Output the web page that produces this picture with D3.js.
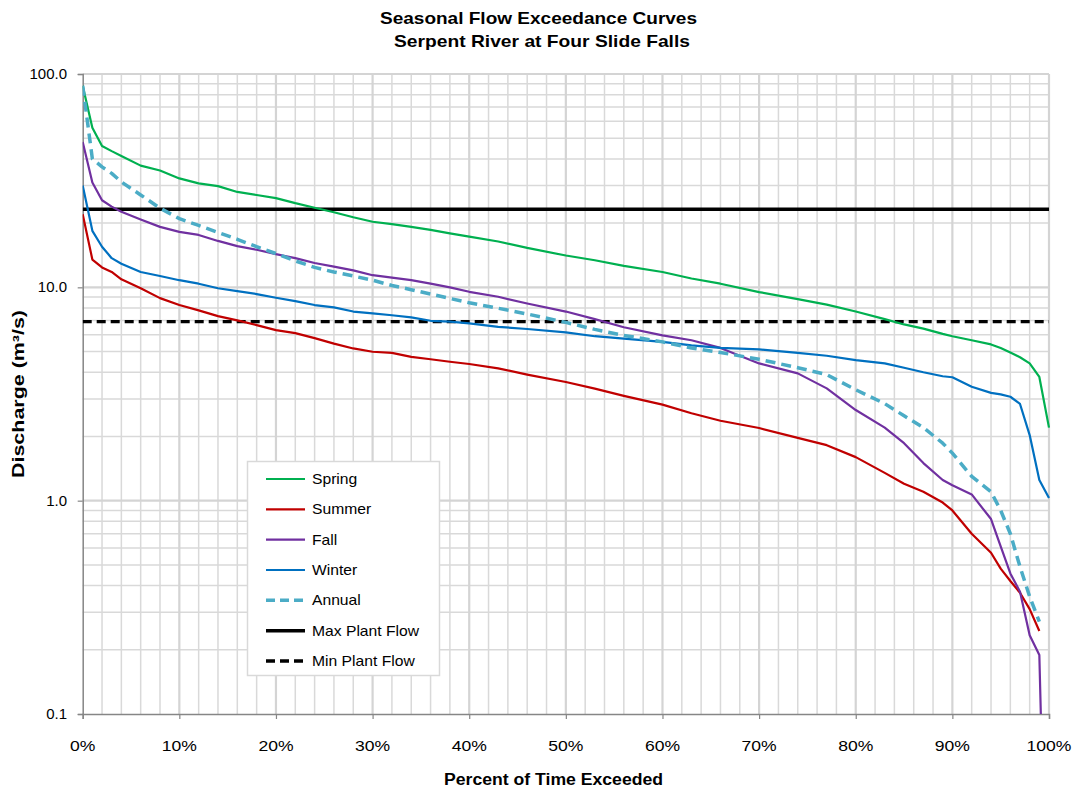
<!DOCTYPE html>
<html>
<head>
<meta charset="utf-8">
<script src="https://cdn.jsdelivr.net/npm/d3@7"></script>
<style>
  body { margin: 0; background: #fff; }
  svg { display: block; font-family: "Liberation Sans", Arial, sans-serif; }
</style>
</head>
<body>
<svg id="chart" width="1077" height="791"></svg>
<script>
// ---------------- DATA ----------------
const titleLines = ["Seasonal Flow Exceedance Curves", "Serpent River at Four Slide Falls"];
const xTickLabels = ["0%","10%","20%","30%","40%","50%","60%","70%","80%","90%","100%"];
const yTickValues = [0.1, 1, 10, 100];
const yTickLabels = ["0.1", "1.0", "10.0", "100.0"];

const percent = [0,1,2,3,4,6,8,10,12,14,16,18,20,22,24,26,28,30,32,34,36,38,40,43,46,50,53,56,60,63,66,70,74,77,80,83,85,87,89,90,92,94,95,96,97,98,99,100];

const spring = [88,56,46,43.5,41.3,37.2,35.3,32.4,30.7,29.8,28.0,27.1,26.2,24.8,23.6,22.5,21.3,20.3,19.8,19.2,18.6,17.9,17.3,16.4,15.3,14.1,13.4,12.6,11.8,11.0,10.4,9.5,8.8,8.3,7.7,7.1,6.7,6.4,6.05,5.9,5.65,5.4,5.2,4.95,4.7,4.4,3.8,2.2];
const summer = [22,13.5,12.4,11.8,10.9,9.9,8.9,8.26,7.8,7.33,7.0,6.65,6.3,6.1,5.78,5.45,5.17,4.99,4.93,4.72,4.6,4.48,4.37,4.17,3.9,3.6,3.35,3.1,2.82,2.57,2.37,2.19,1.97,1.82,1.6,1.35,1.2,1.1,0.98,0.9,0.7,0.57,0.48,0.42,0.37,0.31,0.245,null];
const fall = [48,31,25.6,23.9,22.6,20.8,19.2,18.2,17.6,16.5,15.6,15.0,14.3,13.7,13.0,12.5,12.0,11.4,11.1,10.8,10.4,10.0,9.53,9.03,8.4,7.7,7.1,6.5,5.95,5.65,5.2,4.4,3.95,3.36,2.66,2.2,1.86,1.5,1.25,1.18,1.07,0.82,0.61,0.456,0.374,0.234,0.189,0.003];
const winter = [30,18.4,15.5,13.7,12.9,11.8,11.3,10.8,10.4,9.9,9.6,9.3,8.94,8.62,8.26,8.05,7.7,7.55,7.4,7.23,6.97,6.9,6.78,6.53,6.38,6.15,5.9,5.75,5.55,5.35,5.2,5.12,4.93,4.78,4.56,4.4,4.2,4.0,3.83,3.79,3.42,3.2,3.15,3.07,2.84,2.03,1.25,1.03];
const annual = [88,40,36.7,34.2,31.2,27.1,23.5,21.0,19.5,18.1,16.8,15.5,14.4,13.3,12.4,11.8,11.3,10.8,10.2,9.75,9.3,8.87,8.46,7.98,7.5,6.85,6.35,5.95,5.55,5.2,4.95,4.6,4.2,3.9,3.31,2.85,2.5,2.2,1.86,1.67,1.3,1.1,0.9,0.7,0.49,0.355,0.271,null];
const maxPlantFlow = 23.2;
const minPlantFlow = 6.9;

const seriesNames = ["Spring","Summer","Fall","Winter","Annual","Max Plant Flow","Min Plant Flow"];

// ---------------- LAYOUT ----------------
const svg = d3.select("#chart");
const L = 82.7, R = 1049, T = 74, B = 714;
const x = d3.scaleLinear().domain([0, 100]).range([L, R]);
const y = d3.scaleLog().domain([0.1, 100]).range([B, T]);

// stretch text horizontally (Excel rendering is wider)
function stretch(sel, factor) {
  sel.each(function () {
    const w = this.getComputedTextLength();
    d3.select(this).attr("textLength", w * factor).attr("lengthAdjust", "spacingAndGlyphs");
  });
}

// gridlines
const grid = svg.append("g");
const minorY = [];
[0.1, 1, 10].forEach(d => { for (let k = 2; k <= 9; k++) minorY.push(d * k); });
grid.selectAll("line.hy").data(minorY).join("line")
  .attr("x1", L).attr("x2", R).attr("y1", d => y(d)).attr("y2", d => y(d))
  .attr("stroke", "#d9d9d9").attr("stroke-width", 1.5);
grid.selectAll("line.vx").data(d3.range(2, 101, 2).filter(d => d % 10 !== 0)).join("line")
  .attr("x1", d => x(d)).attr("x2", d => x(d)).attr("y1", T).attr("y2", B)
  .attr("stroke", "#d9d9d9").attr("stroke-width", 1.5);
grid.selectAll("line.vmaj").data(d3.range(10, 101, 10)).join("line")
  .attr("x1", d => x(d)).attr("x2", d => x(d)).attr("y1", T).attr("y2", B)
  .attr("stroke", "#d4d4d4").attr("stroke-width", 2.2);
grid.selectAll("line.hmaj").data([1, 10, 100]).join("line")
  .attr("x1", L).attr("x2", R).attr("y1", d => y(d)).attr("y2", d => y(d))
  .attr("stroke", "#d4d4d4").attr("stroke-width", 2.2);

// axes
const xAxis = d3.axisBottom(x).tickValues(d3.range(0, 101, 10)).tickSize(5).tickFormat("");
const gx = svg.append("g").attr("transform", `translate(0,${B})`).call(xAxis);
gx.select(".domain").attr("stroke", "#868686").attr("stroke-width", 1.5);
gx.selectAll(".tick line").attr("stroke", "#868686").attr("stroke-width", 1.2);

const yAxis = d3.axisLeft(y).tickValues(yTickValues).tickSize(5).tickFormat("");
const gy = svg.append("g").attr("transform", `translate(${L},0)`).call(yAxis);
gy.select(".domain").attr("stroke", "#868686").attr("stroke-width", 1.5);
gy.selectAll(".tick line").attr("stroke", "#868686").attr("stroke-width", 1.2);

// tick labels
svg.append("g").selectAll("text").data(xTickLabels).join("text")
  .attr("x", (d, i) => x(i * 10)).attr("y", 751)
  .attr("text-anchor", "middle").attr("font-size", 15).attr("fill", "#000")
  .text(d => d)
  .call(stretch, 1.17);
svg.append("g").selectAll("text").data(yTickValues).join("text")
  .attr("x", 67).attr("y", d => y(d) + 5)
  .attr("text-anchor", "end").attr("font-size", 15).attr("fill", "#000")
  .text((d, i) => yTickLabels[i]);

// titles
svg.append("g").selectAll("text").data(titleLines).join("text")
  .attr("x", (d, i) => i === 0 ? 538.5 : 542).attr("y", (d, i) => 24 + i * 23)
  .attr("text-anchor", "middle").attr("font-size", 17).attr("font-weight", "bold")
  .text(d => d)
  .attr("textLength", (d, i) => i === 0 ? 317 : 296)
  .attr("lengthAdjust", "spacingAndGlyphs");
svg.append("text").attr("x", 553.5).attr("y", 785)
  .attr("text-anchor", "middle").attr("font-size", 16).attr("font-weight", "bold")
  .attr("textLength", 219).attr("lengthAdjust", "spacingAndGlyphs")
  .text("Percent of Time Exceeded");
svg.append("text").attr("transform", "translate(24,394) rotate(-90)")
  .attr("text-anchor", "middle").attr("font-size", 16).attr("font-weight", "bold")
  .attr("textLength", 168).attr("lengthAdjust", "spacingAndGlyphs")
  .text("Discharge (m³/s)");

// clip
svg.append("clipPath").attr("id", "plotclip").append("rect")
  .attr("x", L).attr("y", T - 2).attr("width", R - L + 2).attr("height", B - T + 2);

const styles = [
  { name: "Spring", data: spring, color: "#00B050", width: 2.2, dash: null },
  { name: "Summer", data: summer, color: "#C00000", width: 2.2, dash: null },
  { name: "Fall", data: fall, color: "#7030A0", width: 2.2, dash: null },
  { name: "Winter", data: winter, color: "#0070C0", width: 2.2, dash: null },
  { name: "Annual", data: annual, color: "#4BACC6", width: 3.5, dash: "10,6" }
];

const line = d3.line()
  .defined(d => d[1] != null)
  .x(d => x(d[0])).y(d => y(d[1]));

const plot = svg.append("g").attr("clip-path", "url(#plotclip)");
plot.append("line").attr("x1", x(0)).attr("x2", x(100))
  .attr("y1", y(maxPlantFlow)).attr("y2", y(maxPlantFlow))
  .attr("stroke", "#000").attr("stroke-width", 3.5);
plot.append("line").attr("x1", x(0)).attr("x2", x(100))
  .attr("y1", y(minPlantFlow)).attr("y2", y(minPlantFlow))
  .attr("stroke", "#000").attr("stroke-width", 3.2).attr("stroke-dasharray", "9,5");

styles.forEach(s => {
  plot.append("path")
    .datum(percent.map((p, i) => [p, s.data[i]]))
    .attr("d", line)
    .attr("fill", "none")
    .attr("stroke", s.color)
    .attr("stroke-width", s.width)
    .attr("stroke-linejoin", "round")
    .attr("stroke-dasharray", s.dash);
});

// legend
const legendItems = [
  { color: "#00B050", width: 2.2, dash: null },
  { color: "#C00000", width: 2.2, dash: null },
  { color: "#7030A0", width: 2.2, dash: null },
  { color: "#0070C0", width: 2.2, dash: null },
  { color: "#4BACC6", width: 3.5, dash: "9,5" },
  { color: "#000000", width: 3.5, dash: null },
  { color: "#000000", width: 3.5, dash: "9,5" }
];
const lg = svg.append("g");
lg.append("rect").attr("x", 247.5).attr("y", 461.5).attr("width", 192).attr("height", 214)
  .attr("fill", "#fff").attr("stroke", "#d9d9d9").attr("stroke-width", 1.5);
const rowY = d3.scaleLinear().domain([0, 6]).range([479, 661]);
seriesNames.forEach((n, i) => {
  const it = legendItems[i];
  lg.append("line").attr("x1", 266).attr("x2", 305)
    .attr("y1", rowY(i)).attr("y2", rowY(i))
    .attr("stroke", it.color).attr("stroke-width", it.width)
    .attr("stroke-dasharray", it.dash);
  lg.append("text").attr("x", 312).attr("y", rowY(i) + 5)
    .attr("font-size", 14.5).attr("fill", "#000").text(n)
    .call(stretch, 1.08);
});
</script>
</body>
</html>
